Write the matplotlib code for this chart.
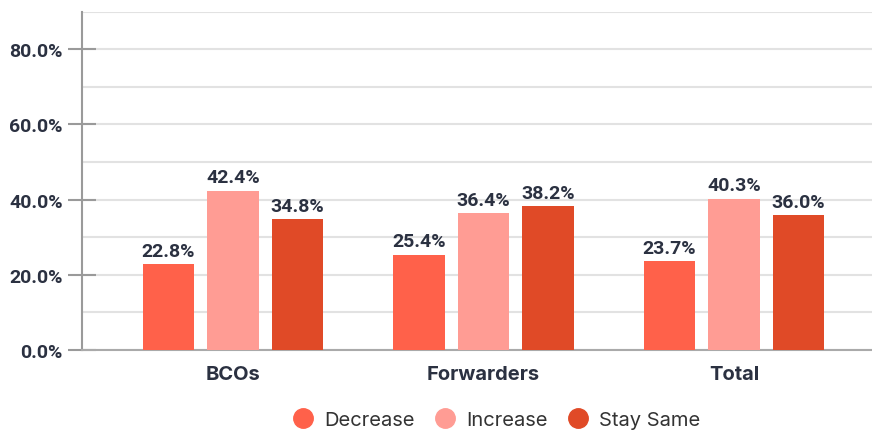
import numpy as np
import matplotlib.pyplot as plt
from matplotlib.lines import Line2D
from matplotlib.ticker import MultipleLocator, FuncFormatter

categories = ['BCOs', 'Forwarders', 'Total']
series = ['Decrease', 'Increase', 'Stay Same']
decrease = [22.8, 25.4, 23.7]
increase = [42.4, 36.4, 40.3]
stay_same = [34.8, 38.2, 36.0]
values = [decrease, increase, stay_same]
colors = ['#FF614A', '#FF9C94', '#E04A27']

text_dark = '#2B3141'
axis_grey = '#9A9A9A'

fig = plt.figure(figsize=(8.72, 4.31), dpi=100)
ax = fig.add_axes([0.094, 0.1856, 0.906, 0.785])

x = np.arange(len(categories))
width = 0.204
offset = 0.2575

for i, (name, vals, col) in enumerate(zip(series, values, colors)):
    pos = x + (i - 1) * offset
    bars = ax.bar(pos, vals, width, color=col, zorder=3, label=name)
    for b, v in zip(bars, vals):
        ax.annotate(f'{v:.1f}%', (b.get_x() + b.get_width() / 2, v),
                    xytext=(0, 3), textcoords='offset points',
                    ha='center', va='bottom', fontsize=14, fontweight='bold',
                    color=text_dark, family='Roboto')

ax.set_xlim(-0.603, 2.551)
ax.set_ylim(0, 90)

# grid every 10%, labelled ticks every 20%
ax.yaxis.set_major_locator(MultipleLocator(20))
ax.yaxis.set_minor_locator(MultipleLocator(10))
ax.yaxis.set_major_formatter(FuncFormatter(lambda v, p: f'{v:.1f}%'))
ax.grid(axis='y', which='both', color='#E2E2E2', linewidth=1.5, zorder=0)
ax.tick_params(axis='y', which='major', direction='inout', length=19.5,
               width=1.5, color=axis_grey, pad=4, labelsize=14,
               labelcolor=text_dark)
ax.tick_params(axis='y', which='minor', length=0)
for lbl in ax.get_yticklabels():
    lbl.set_fontweight('bold')
    lbl.set_family('Roboto')

ax.set_xticks(x)
ax.set_xticklabels(categories, fontsize=14.5, fontweight='bold',
                   color=text_dark, family='Inter')
ax.tick_params(axis='x', length=0, pad=11)

for s in ['top', 'right']:
    ax.spines[s].set_visible(False)
ax.spines['left'].set_color(axis_grey)
ax.spines['left'].set_linewidth(1.5)
ax.spines['bottom'].set_color('#AAAAAA')
ax.spines['bottom'].set_linewidth(1.5)

handles = [Line2D([], [], marker='o', linestyle='', markersize=14,
                  markerfacecolor=c, markeredgecolor=c) for c in colors]
fig.legend(handles, series, loc='center', bbox_to_anchor=(0.5635, 0.024),
           ncol=3, frameon=False, handletextpad=0.05, columnspacing=0.5,
           prop={'family': 'Inter', 'size': 14.5}, labelcolor='#333333')

fig.savefig('out.png', dpi=100)
